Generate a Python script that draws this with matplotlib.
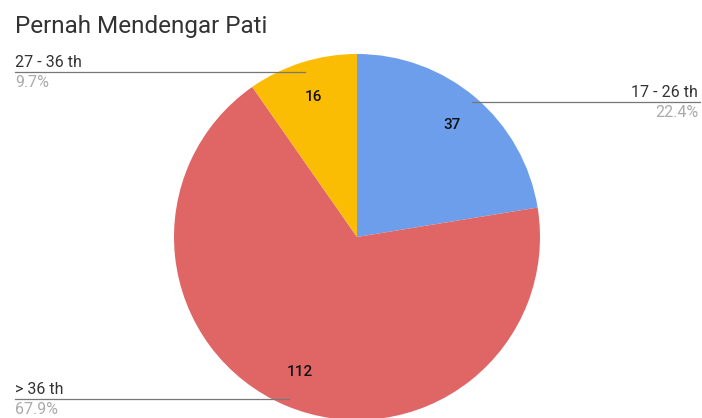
import matplotlib.pyplot as plt
import numpy as np

title = "Pernah Mendengar Pati"
labels = ["17 - 26 th", "> 36 th", "27 - 36 th"]
values = [37, 112, 16]
colors = ["#6d9eeb", "#e06666", "#fbbc04"]

fig = plt.figure(figsize=(7.02, 4.18), dpi=100)
ax = fig.add_axes([0, 0, 1, 1])

cx, cy, R = 357, 181, 183
total = sum(values)

wedges, texts, autotexts = ax.pie(
    values, colors=colors, startangle=90, counterclock=False,
    center=(cx, cy), radius=R, frame=True,
    autopct=lambda p: "%d" % round(p * total / 100), pctdistance=0.8,
    textprops=dict(fontsize=11, color="#111111", family="Roboto",
                   fontweight="medium"))
ax.set_xlim(0, 702)
ax.set_ylim(0, 418)
ax.set_aspect("equal")
ax.axis("off")

fig.text(15 / 702, 1 - 26 / 418, title, fontsize=17.5, color="#333333",
         family="Roboto", va="center")

# leader lines + outside labels
lc = "#777777"
fs = 11.5
for w, lab, v in zip(wedges, labels, values):
    ang = np.deg2rad((w.theta1 + w.theta2) / 2)
    pct = "%.1f%%" % (100 * v / total)
    if lab == "17 - 26 th":
        f, x0, ha = 0.97, 700, "right"
    elif lab == "> 36 th":
        f, x0, ha = 0.96, 15, "left"
    else:
        f, x0, ha = 0.945, 15, "left"
    px, py = cx + f * R * np.cos(ang), cy + f * R * np.sin(ang)
    ax.plot([x0, px], [py, py], color=lc, lw=0.9)
    tx = 698 if ha == "right" else x0
    ax.text(tx, py + 2, lab, ha=ha, va="bottom", fontsize=fs,
            color="#333333", family="Roboto")
    ax.text(tx, py - 3, pct, ha=ha, va="top", fontsize=fs,
            color="#aaaaaa", family="Roboto")

fig.savefig("out.png", dpi=100)
